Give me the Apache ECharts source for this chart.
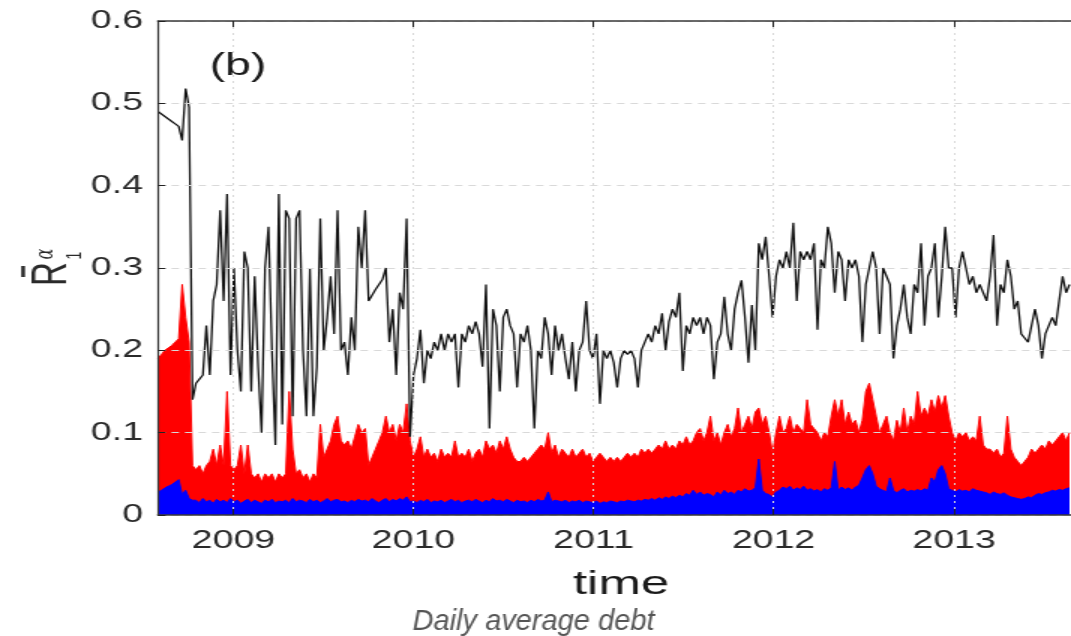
<!DOCTYPE html>
<html>
<head>
<meta charset="utf-8">
<title>Daily average debt</title>
<script src="https://cdn.jsdelivr.net/npm/echarts@6/dist/echarts.min.js"></script>
<style>
  html, body { margin: 0; padding: 0; background: #ffffff; overflow: hidden; }
  /* the source figure is stretched horizontally, so the chart is drawn narrow and widened */
  #chart { width: 714px; height: 636px; transform: scaleX(1.5); transform-origin: 0 0; }
</style>
</head>
<body>
<div id="chart"></div>
<script>
// weekly samples, starting 2008-08-01
const startDate = Date.UTC(2008, 7, 1);
const endDate = Date.UTC(2013, 7, 26);
const stepDays = 7;
const yearTicks = [2009, 2010, 2011, 2012, 2013];

// black line (mean R)
const blackValues = [
  0.49, 0.487, 0.484, 0.481, 0.478, 0.475, 0.472, 0.455, 0.518, 0.495,
  0.14, 0.16, 0.165, 0.17, 0.23, 0.17, 0.26, 0.28, 0.37, 0.26,
  0.39, 0.17, 0.30, 0.20, 0.15, 0.32, 0.30, 0.15, 0.29, 0.18,
  0.10, 0.30, 0.35, 0.20, 0.085, 0.39, 0.11, 0.37, 0.36, 0.12,
  0.36, 0.37, 0.20, 0.12, 0.30, 0.12, 0.18, 0.36, 0.20, 0.24,
  0.29, 0.22, 0.37, 0.20, 0.21, 0.17, 0.24, 0.20, 0.35, 0.30,
  0.37, 0.26, 0.267, 0.274, 0.28, 0.286, 0.30, 0.21, 0.25, 0.17,
  0.27, 0.25, 0.36, 0.095, 0.17, 0.19, 0.225, 0.16, 0.20, 0.19,
  0.21, 0.20, 0.22, 0.20, 0.22, 0.21, 0.22, 0.155, 0.22, 0.21,
  0.23, 0.22, 0.235, 0.22, 0.18, 0.28, 0.105, 0.25, 0.23, 0.15,
  0.24, 0.25, 0.23, 0.22, 0.155, 0.22, 0.21, 0.23, 0.20, 0.105,
  0.20, 0.19, 0.24, 0.22, 0.17, 0.23, 0.20, 0.22, 0.19, 0.165,
  0.21, 0.15, 0.20, 0.21, 0.26, 0.20, 0.19, 0.22, 0.135, 0.20,
  0.19, 0.20, 0.185, 0.155, 0.19, 0.20, 0.195, 0.20, 0.19, 0.155,
  0.20, 0.21, 0.22, 0.21, 0.23, 0.22, 0.245, 0.20, 0.235, 0.25,
  0.24, 0.27, 0.175, 0.23, 0.22, 0.24, 0.23, 0.24, 0.22, 0.24,
  0.23, 0.165, 0.21, 0.22, 0.265, 0.22, 0.20, 0.25, 0.27, 0.285,
  0.24, 0.185, 0.255, 0.20, 0.33, 0.31, 0.338, 0.29, 0.24, 0.29,
  0.31, 0.30, 0.32, 0.30, 0.355, 0.26, 0.32, 0.31, 0.32, 0.31,
  0.33, 0.225, 0.31, 0.30, 0.35, 0.33, 0.27, 0.32, 0.31, 0.26,
  0.31, 0.30, 0.31, 0.29, 0.21, 0.28, 0.30, 0.32, 0.30, 0.22,
  0.30, 0.29, 0.28, 0.19, 0.23, 0.25, 0.28, 0.24, 0.22, 0.28,
  0.27, 0.33, 0.23, 0.29, 0.30, 0.33, 0.24, 0.29, 0.35, 0.30,
  0.30, 0.24, 0.30, 0.32, 0.30, 0.28, 0.29, 0.27, 0.28, 0.27,
  0.26, 0.29, 0.34, 0.23, 0.28, 0.27, 0.31, 0.29, 0.25, 0.26,
  0.22, 0.215, 0.21, 0.23, 0.25, 0.23, 0.19, 0.22, 0.23, 0.24,
  0.23, 0.26, 0.29, 0.27, 0.28
];

// red area
const redValues = [
  0.19, 0.195, 0.20, 0.203, 0.206, 0.21, 0.214, 0.28, 0.24, 0.21,
  0.06, 0.055, 0.06, 0.05, 0.06, 0.065, 0.08, 0.06, 0.085, 0.06,
  0.15, 0.06, 0.055, 0.06, 0.085, 0.05, 0.085, 0.05, 0.045, 0.05,
  0.04, 0.05, 0.045, 0.05, 0.04, 0.05, 0.045, 0.05, 0.15, 0.08,
  0.05, 0.055, 0.045, 0.05, 0.04, 0.05, 0.045, 0.11, 0.07, 0.08,
  0.09, 0.11, 0.12, 0.09, 0.085, 0.09, 0.08, 0.095, 0.11, 0.10,
  0.105, 0.06, 0.07, 0.08, 0.09, 0.10, 0.12, 0.10, 0.11, 0.09,
  0.11, 0.10, 0.135, 0.09, 0.07, 0.08, 0.095, 0.07, 0.08, 0.07,
  0.075, 0.065, 0.08, 0.07, 0.075, 0.07, 0.09, 0.07, 0.075, 0.07,
  0.08, 0.065, 0.075, 0.08, 0.07, 0.09, 0.08, 0.085, 0.075, 0.09,
  0.08, 0.095, 0.08, 0.07, 0.065, 0.065, 0.07, 0.065, 0.07, 0.075,
  0.08, 0.085, 0.08, 0.10, 0.075, 0.085, 0.07, 0.08, 0.075, 0.07,
  0.08, 0.07, 0.075, 0.08, 0.07, 0.075, 0.065, 0.07, 0.075, 0.07,
  0.065, 0.07, 0.065, 0.07, 0.065, 0.07, 0.075, 0.07, 0.075, 0.07,
  0.08, 0.075, 0.08, 0.075, 0.08, 0.085, 0.08, 0.09, 0.08, 0.085,
  0.08, 0.09, 0.085, 0.095, 0.085, 0.09, 0.10, 0.105, 0.09, 0.10,
  0.12, 0.09, 0.10, 0.085, 0.10, 0.11, 0.095, 0.105, 0.13, 0.10,
  0.11, 0.12, 0.105, 0.125, 0.13, 0.11, 0.12, 0.10, 0.075, 0.10,
  0.12, 0.10, 0.105, 0.12, 0.10, 0.11, 0.105, 0.10, 0.14, 0.11,
  0.105, 0.10, 0.09, 0.10, 0.095, 0.12, 0.14, 0.12, 0.14, 0.11,
  0.125, 0.11, 0.115, 0.10, 0.115, 0.15, 0.16, 0.14, 0.12, 0.10,
  0.11, 0.12, 0.10, 0.09, 0.115, 0.10, 0.13, 0.10, 0.12, 0.11,
  0.15, 0.12, 0.13, 0.12, 0.14, 0.125, 0.145, 0.13, 0.145, 0.12,
  0.10, 0.09, 0.10, 0.095, 0.10, 0.09, 0.095, 0.09, 0.12, 0.085,
  0.08, 0.08, 0.075, 0.08, 0.07, 0.075, 0.12, 0.08, 0.07, 0.065,
  0.06, 0.065, 0.07, 0.08, 0.075, 0.08, 0.085, 0.08, 0.09, 0.085,
  0.09, 0.095, 0.10, 0.09, 0.10
];

// blue area
const blueValues = [
  0.028, 0.03, 0.033, 0.035, 0.037, 0.04, 0.043, 0.025, 0.03, 0.02,
  0.018, 0.018, 0.015, 0.02, 0.016, 0.018, 0.014, 0.019, 0.016, 0.018,
  0.015, 0.02, 0.016, 0.018, 0.014, 0.017, 0.019, 0.015, 0.018, 0.016,
  0.014, 0.018, 0.016, 0.019, 0.015, 0.017, 0.016, 0.018, 0.015, 0.02,
  0.016, 0.018, 0.017, 0.015, 0.019, 0.016, 0.018, 0.015, 0.017, 0.02,
  0.016, 0.018, 0.019, 0.016, 0.017, 0.015, 0.018, 0.016, 0.019, 0.017,
  0.018, 0.016, 0.02, 0.017, 0.015, 0.018, 0.02, 0.016, 0.019, 0.017,
  0.02, 0.018, 0.022, 0.016, 0.017, 0.015, 0.018, 0.016, 0.019, 0.015,
  0.017, 0.016, 0.018, 0.015, 0.017, 0.019, 0.016, 0.018, 0.015, 0.017,
  0.018, 0.016, 0.019, 0.017, 0.015, 0.018, 0.016, 0.02, 0.017, 0.018,
  0.016, 0.019, 0.017, 0.015, 0.018, 0.016, 0.017, 0.015, 0.018, 0.016,
  0.019, 0.017, 0.018, 0.028, 0.016, 0.018, 0.017, 0.016, 0.018, 0.015,
  0.017, 0.016, 0.018, 0.015, 0.017, 0.016, 0.015, 0.017, 0.014, 0.016,
  0.015, 0.017, 0.016, 0.015, 0.017, 0.016, 0.018, 0.017, 0.016, 0.018,
  0.017, 0.019, 0.018, 0.02, 0.018, 0.021, 0.019, 0.022, 0.02, 0.023,
  0.021, 0.024, 0.022, 0.026, 0.024, 0.03, 0.025, 0.028, 0.024, 0.026,
  0.025, 0.022, 0.028, 0.024, 0.03, 0.026, 0.028, 0.025, 0.03, 0.028,
  0.032, 0.029, 0.03, 0.033, 0.068, 0.03, 0.026, 0.025, 0.022, 0.028,
  0.03, 0.034, 0.032, 0.035, 0.03, 0.033, 0.031, 0.035, 0.03, 0.032,
  0.029, 0.031, 0.028, 0.032, 0.03, 0.033, 0.065, 0.03, 0.034, 0.031,
  0.033, 0.03, 0.034, 0.036, 0.045, 0.055, 0.06, 0.05, 0.035, 0.032,
  0.03, 0.028, 0.045, 0.03, 0.027, 0.03, 0.032, 0.028, 0.03, 0.029,
  0.031, 0.029, 0.032, 0.03, 0.045, 0.04, 0.055, 0.06, 0.05, 0.032,
  0.03, 0.028, 0.031, 0.029, 0.03, 0.028, 0.032, 0.03, 0.029, 0.028,
  0.027, 0.025, 0.028, 0.026, 0.025, 0.027, 0.024, 0.022, 0.021, 0.02,
  0.019, 0.02, 0.022, 0.021, 0.024, 0.026, 0.025, 0.027, 0.028, 0.03,
  0.029, 0.031, 0.03, 0.032, 0.033
];

const STRETCH = 1.5;
const sx = (x) => x / STRETCH;
const DAY = 86400000;
const textColor = '#2a2a2a';
const gridColor = '#d9d9d9';

const toPoints = (values) => values.map((v, i) => [startDate + i * stepDays * DAY, v]);
const yearStamps = yearTicks.map((y) => Date.UTC(y, 0, 1));

const centered = { align: 'center', textAlign: 'center', verticalAlign: 'middle', textVerticalAlign: 'middle' };

const chart = echarts.init(document.getElementById('chart'));

const option = {
  animation: false,
  textStyle: { fontFamily: 'Liberation Sans' },
  grid: { left: sx(158), right: 0, top: 21, bottom: 121 },
  xAxis: [
    {
      type: 'value',
      min: startDate,
      max: endDate,
      z: 5,
      axisLine: { lineStyle: { color: '#3a3a3a', width: 1.5 } },
      axisTick: { inside: true, length: 6, customValues: yearStamps, lineStyle: { color: '#222', width: 1 } },
      axisLabel: {
        customValues: yearStamps,
        formatter: (v) => String(new Date(v).getUTCFullYear()),
        fontSize: 25,
        color: textColor,
        margin: 14,
      },
      splitLine: { show: true, lineStyle: { color: gridColor, type: [2, 4], width: 1 } },
    },
    {
      type: 'value',
      position: 'top',
      min: startDate,
      max: endDate,
      z: 5,
      axisLine: { show: true, lineStyle: { color: '#3a3a3a', width: 1.5 } },
      axisTick: { show: true, inside: true, length: 6, customValues: yearStamps, lineStyle: { color: '#222', width: 1 } },
      axisLabel: { show: false },
      splitLine: { show: false },
    },
  ],
  yAxis: {
    type: 'value',
    min: 0,
    max: 0.6,
    interval: 0.1,
    z: 5,
    axisLine: { show: true, lineStyle: { color: '#3a3a3a', width: 1.2 } },
    axisTick: { show: true, inside: true, length: 5, lineStyle: { color: '#222', width: 1 } },
    axisLabel: { fontSize: 25, color: textColor, margin: 10 },
    splitLine: { show: true, lineStyle: { color: gridColor, type: [5, 4], width: 1 } },
  },
  series: [
    {
      type: 'line',
      data: toPoints(redValues),
      showSymbol: false,
      lineStyle: { color: '#ff0000', width: 1 },
      areaStyle: { color: '#ff0000', opacity: 1 },
    },
    {
      type: 'line',
      data: toPoints(blueValues),
      showSymbol: false,
      lineStyle: { color: '#0000ff', width: 1 },
      areaStyle: { color: '#0000ff', opacity: 1 },
    },
    {
      type: 'line',
      data: toPoints(blackValues),
      showSymbol: false,
      lineStyle: { color: '#111111', width: 1.3 },
    },
  ],
  graphic: [
    {
      type: 'text', x: sx(238), y: 66, z: 10,
      style: Object.assign({ text: '(b)', font: '31px "Liberation Sans"', fill: '#1a1a1a' }, centered),
    },
    {
      type: 'text', x: sx(621), y: 585, z: 10,
      style: Object.assign({ text: 'time', font: '34px "Liberation Sans"', fill: '#1a1a1a' }, centered),
    },
    {
      // y-axis name: R with bar, subscript 1, superscript alpha, read bottom to top
      type: 'group', x: sx(52), y: 274, rotation: Math.PI / 2, z: 10,
      children: [
        { type: 'text', x: 0, y: 0, style: Object.assign({ text: 'R', font: '33px "Liberation Sans"', fill: textColor }, centered) },
        { type: 'rect', shape: { x: -3, y: -20.5, width: 11, height: 2.5 }, style: { fill: textColor } },
        { type: 'text', x: 20, y: -4, style: Object.assign({ text: 'α', font: 'italic 16px "DejaVu Serif"', fill: textColor }, centered) },
        { type: 'text', x: 18.5, y: 15, style: Object.assign({ text: '1', font: '14px "Liberation Sans"', fill: textColor }, centered) },
      ],
    },
    {
      type: 'text', x: sx(533.5), y: 622, scaleX: 1 / STRETCH, z: 10,
      style: Object.assign({ text: 'Daily average debt', font: 'italic 29px "Liberation Sans"', fill: '#555555' }, centered),
    },
  ],
};

chart.setOption(option);
</script>
</body>
</html>
